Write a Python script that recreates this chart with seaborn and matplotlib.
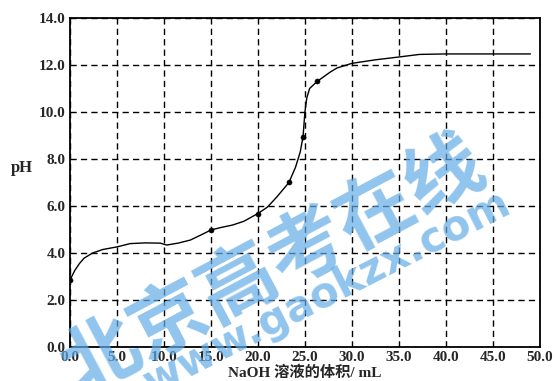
import matplotlib
matplotlib.use("Agg")
import matplotlib.pyplot as plt
import seaborn as sns
import pandas as pd

# curve
volume = [0, 0.5, 1, 1.5, 2.4, 3.5, 5, 6.4, 8, 9.6, 10.3, 11.5, 12.8, 14, 15, 16,
          17.3, 18.5, 20, 21, 22, 23.3, 24, 24.5, 24.8, 25.0, 25.2, 25.5, 26.3,
          27.7, 28.4, 30, 32.5, 35, 37.2, 40, 45, 49]
ph = [2.85, 3.25, 3.55, 3.78, 4.0, 4.15, 4.26, 4.4, 4.43, 4.42, 4.34, 4.42, 4.55,
      4.78, 4.98, 5.08, 5.19, 5.35, 5.68, 5.95, 6.38, 7.0, 7.65, 8.3, 8.95, 10.0,
      10.6, 11.0, 11.3, 11.7, 11.87, 12.07, 12.22, 12.34, 12.45, 12.47, 12.47, 12.47]

# measured points
pt_volume = [0, 15, 20, 23.3, 24.8, 26.3]
pt_ph = [2.85, 4.98, 5.68, 7.0, 8.95, 11.3]

x_ticks = [0, 5, 10, 15, 20, 25, 30, 35, 40, 45, 50]
y_ticks = [0, 2, 4, 6, 8, 10, 12, 14]
x_label = "NaOH 溶液的体积/ mL"
y_label = "pH"
watermark_main = "北京高考在线"
watermark_url = "www.gaokzx.com"

sns.set_style("white")
plt.rcParams['font.family'] = ['Liberation Serif', 'Noto Sans CJK SC']

fig = plt.figure(figsize=(5.6, 3.81), dpi=100)
ax = fig.add_axes([0.125, 0.0892, 0.839, 0.8636])

curve = pd.DataFrame({"v": volume, "ph": ph})
pts = pd.DataFrame({"v": pt_volume, "ph": pt_ph})
sns.lineplot(data=curve, x="v", y="ph", ax=ax, color="black", linewidth=1.0,
             sort=False, estimator=None, zorder=3)
sns.scatterplot(data=pts, x="v", y="ph", ax=ax, color="black", s=14,
                edgecolor="black", zorder=4)

ax.set_xlim(0, 50)
ax.set_ylim(0, 14)
ax.set_xticks(x_ticks)
ax.set_yticks(y_ticks)
ax.set_xticklabels([f"{t:.1f}" for t in x_ticks], fontsize=11, fontweight="bold")
ax.set_yticklabels([f"{t:.1f}" for t in y_ticks], fontsize=11, fontweight="bold")
ax.tick_params(axis="both", length=0, pad=3)
ax.grid(True, color="black", linestyle=(0, (4.5, 3)), linewidth=1.0)
for s in ax.spines.values():
    s.set_visible(True)
    s.set_color("black")
    s.set_linewidth(1.3)

ax.set_xlabel(x_label, fontsize=11, fontweight="bold", labelpad=1)
ax.set_ylabel(y_label, fontsize=12, fontweight="bold", rotation=0)
ax.yaxis.set_label_coords(-0.102, 0.52)

fig.text(0.4875, 0.30, watermark_main, fontsize=56, fontweight="bold",
         color="#62ace6", alpha=0.7, rotation=28, ha="center", va="center",
         family=["Noto Sans CJK SC"], zorder=10)
fig.text(0.584, 0.231, watermark_url, fontsize=30, fontweight="bold",
         color="#62ace6", alpha=0.7, rotation=27, ha="center", va="center",
         family=["DejaVu Sans"], zorder=10)

fig.savefig("out.png", dpi=100)
